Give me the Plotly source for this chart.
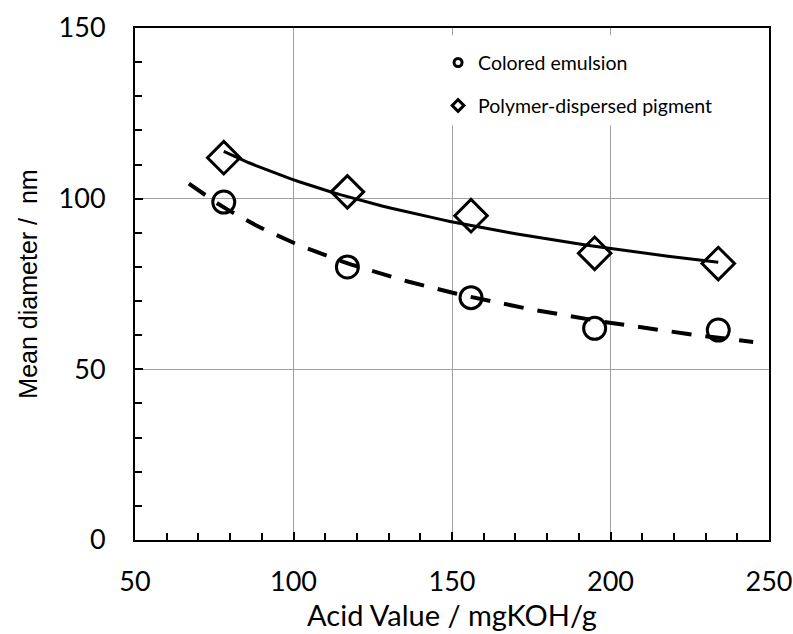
import numpy as np
import plotly.graph_objects as go

# Acid value of the dispersant (mgKOH/g)
acid_value = [78, 117, 156, 195, 234]
# Mean particle diameter (nm)
emulsion_diam = [99, 80, 71, 62, 61.5]
pigment_diam = [112, 102, 95, 84, 81]

# Ranges over which the power-law trend lines are drawn
emulsion_fit_range = [67, 245]
pigment_fit_range = [78, 234]


def power_fit(x, y, x_range, n=60):
    b, ln_a = np.polyfit(np.log(x), np.log(y), 1)
    xs = np.linspace(x_range[0], x_range[1], n)
    return xs, np.exp(ln_a) * xs ** b


fig = go.Figure()

xe, ye = power_fit(acid_value, emulsion_diam, emulsion_fit_range)
xp, yp = power_fit(acid_value, pigment_diam, pigment_fit_range)

fig.add_trace(go.Scatter(x=xe, y=ye, mode="lines", showlegend=False,
                         line=dict(color="black", width=4, dash="20px,14px")))
fig.add_trace(go.Scatter(x=xp, y=yp, mode="lines", showlegend=False,
                         line=dict(color="black", width=3)))

fig.add_trace(go.Scatter(x=acid_value, y=emulsion_diam, mode="markers", showlegend=False,
                         marker=dict(symbol="circle-open", size=22, color="black",
                                     line=dict(width=3, color="black"))))
fig.add_trace(go.Scatter(x=acid_value, y=pigment_diam, mode="markers", showlegend=False,
                         marker=dict(symbol="diamond-open", size=25, color="black",
                                     line=dict(width=3, color="black"))))

# Legend entries
fig.add_trace(go.Scatter(x=[None], y=[None], mode="markers", name="Colored emulsion",
                         legend="legend",
                         marker=dict(symbol="circle-open", size=8, color="black",
                                     line=dict(width=3, color="black"))))
fig.add_trace(go.Scatter(x=[None], y=[None], mode="markers", name="Polymer-dispersed pigment",
                         legend="legend2",
                         marker=dict(symbol="diamond-open", size=9, color="black",
                                     line=dict(width=3, color="black"))))

legend_font = dict(family="Lato, Open Sans, sans-serif", size=19.5, color="black")
axis_font = "Liberation Sans, Arial, sans-serif"
tick_font = "Lato, Liberation Sans, sans-serif"

# White panel behind the legend (hides the grid there)
fig.add_shape(type="rect", xref="paper", yref="paper",
              x0=0.489, x1=0.93, y0=0.81, y1=0.986,
              fillcolor="white", line=dict(width=0), layer="above")

fig.update_layout(
    width=793, height=634,
    margin=dict(l=135, r=24, t=28, b=94),
    paper_bgcolor="white", plot_bgcolor="white",
    font=dict(family=axis_font, color="black"),
    legend=dict(x=0.478, y=0.932, xanchor="left", yanchor="middle",
                bgcolor="rgba(0,0,0,0)", font=legend_font, itemwidth=30),
    legend2=dict(x=0.478, y=0.848, xanchor="left", yanchor="middle",
                 bgcolor="rgba(0,0,0,0)", font=legend_font, itemwidth=30),
    xaxis=dict(
        range=[50, 250], dtick=50, tick0=50,
        showgrid=True, gridcolor="#a0a0a0", gridwidth=1,
        showline=True, linecolor="black", linewidth=2, mirror=True,
        ticks="inside", ticklen=8, tickwidth=2, tickcolor="black",
        minor=dict(dtick=10, ticks="inside", ticklen=7, tickwidth=2,
                   tickcolor="black", showgrid=False),
        tickfont=dict(size=27, family=tick_font),
        ticklabelstandoff=17,
        automargin=False,
        title=dict(text="Acid Value / mgKOH/g", font=dict(size=29, family=tick_font),
                   standoff=6),
        zeroline=False,
    ),
    yaxis=dict(
        range=[0, 150], dtick=50,
        showgrid=True, gridcolor="#a0a0a0", gridwidth=1,
        showline=True, linecolor="black", linewidth=2, mirror=True,
        ticks="inside", ticklen=8, tickwidth=2, tickcolor="black",
        minor=dict(dtick=10, ticks="inside", ticklen=7, tickwidth=2,
                   tickcolor="black", showgrid=False),
        tickfont=dict(size=27, family=tick_font),
        ticklabelstandoff=22,
        automargin=False,
        title=dict(text="Mean diameter /  nm", font=dict(size=25, family=axis_font),
                   standoff=14),
        zeroline=False,
    ),
)

fig.write_html("out.html")
